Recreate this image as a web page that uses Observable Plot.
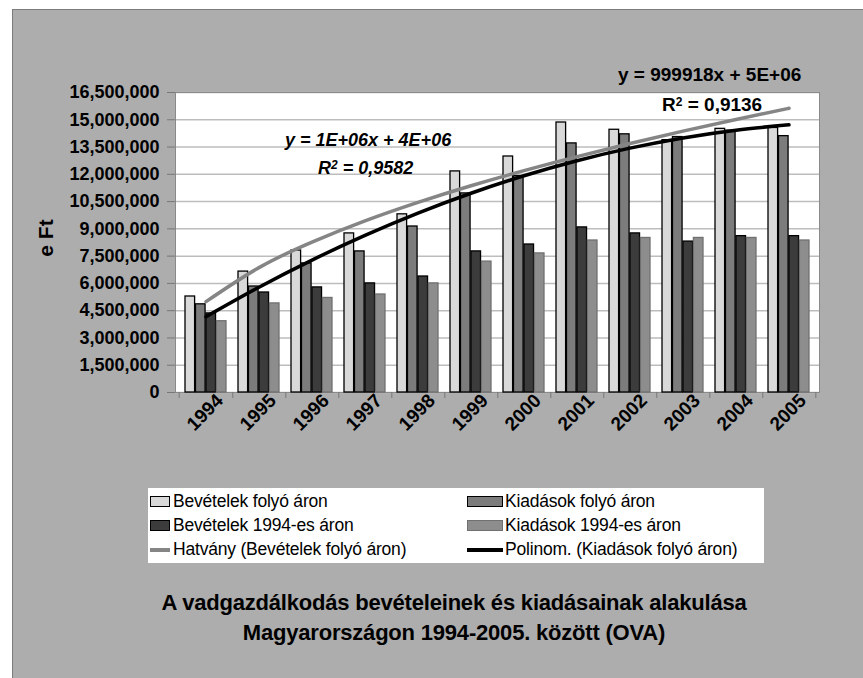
<!DOCTYPE html>
<html>
<head>
<meta charset="utf-8">
<script src="https://cdn.jsdelivr.net/npm/d3@7"></script>
<script src="https://cdn.jsdelivr.net/npm/@observablehq/plot@0.6"></script>
<style>
  html, body { margin: 0; padding: 0; background: #ffffff; }
  #page { position: relative; width: 863px; height: 678px; overflow: hidden; background: #ffffff; font-family: "Liberation Sans", Arial, sans-serif; }
  #panel { position: absolute; left: 12px; top: 9px; width: 900px; height: 720px; background: #adadad; border: 1px solid #7c7c7c; }
  #chart { position: absolute; left: 0; top: 0; }
  .ann { position: absolute; font-weight: bold; font-size: 18px; line-height: 18px; white-space: nowrap; color: #000; }
  .ann sup { font-size: 12px; position: relative; top: -3px; vertical-align: top; }
  #ylabel { position: absolute; left: 46px; top: 238px; transform: translate(-50%, -50%) rotate(-90deg); font-weight: bold; font-size: 21px; white-space: nowrap; }
  #legend { position: absolute; left: 148px; top: 488px; width: 616px; height: 75px; background: #ffffff; font-size: 17.5px; }
  .li { position: absolute; height: 20px; line-height: 20px; white-space: nowrap; letter-spacing: -0.2px; }
  .sw { position: absolute; top: 4px; height: 11px; box-sizing: border-box; }
  .ln { position: absolute; top: 8px; height: 4px; }
  #title { position: absolute; left: 154px; width: 600px; top: 588px; text-align: center; font-weight: bold; font-size: 22px; line-height: 30px; white-space: nowrap; letter-spacing: -0.2px; }
</style>
</head>
<body>
<div id="page">
  <div id="panel"></div>
  <div id="chart"></div>
  <div id="ylabel">e Ft</div>
  <div class="ann" style="left:285px; top:131px; font-style:italic;">y = 1E+06x + 4E+06</div>
  <div class="ann" style="left:318px; top:159px; font-style:italic;">R<sup>2</sup> = 0,9582</div>
  <div class="ann" style="left:618px; top:66px; font-size:19px;">y = 999918x + 5E+06</div>
  <div class="ann" style="left:662px; top:96px; font-size:19px;">R<sup>2</sup> = 0,9136</div>
  <div id="legend"></div>
  <div id="title">A vadgazdálkodás bevételeinek és kiadásainak alakulása<br>Magyarországon 1994-2005. között (OVA)</div>
</div>
<script>
// ---- data ----
const years = ["1994","1995","1996","1997","1998","1999","2000","2001","2002","2003","2004","2005"];
const bevFolyo  = [5280000, 6650000, 7810000, 8750000, 9800000, 12160000, 12980000, 14850000, 14450000, 13880000, 14500000, 14550000];
const kiadFolyo = [4850000, 5830000, 7100000, 7760000, 9130000, 10950000, 11900000, 13700000, 14200000, 14050000, 14400000, 14100000];
const bev1994   = [4350000, 5500000, 5780000, 6000000, 6380000, 7760000, 8140000, 9080000, 8750000, 8300000, 8600000, 8600000];
const kiad1994  = [3920000, 4900000, 5200000, 5390000, 6000000, 7200000, 7650000, 8360000, 8500000, 8500000, 8500000, 8360000];
const seriesNames = ["Bevételek folyó áron", "Kiadások folyó áron", "Bevételek 1994-es áron", "Kiadások 1994-es áron"];
const trendNames = ["Hatvány (Bevételek folyó áron)", "Polinom. (Kiadások folyó áron)"];
const yTicks = [0, 1500000, 3000000, 4500000, 6000000, 7500000, 9000000, 10500000, 12000000, 13500000, 15000000, 16500000];

// ---- styles ----
const fills   = ["#d9d9d9", "#7c7c7c", "#3c3c3c", "#8d8d8d"];
const strokes = ["#000000", "#000000", "#000000", "#707070"];

// ---- trend lines fitted from the data (as the spreadsheet did) ----
const xs = years.map((_, i) => i + 1);
function powerFit(x, y) {
  const lx = x.map(Math.log), ly = y.map(Math.log);
  const mx = d3.mean(lx), my = d3.mean(ly);
  const b = d3.sum(lx, (v, i) => (v - mx) * (ly[i] - my)) / d3.sum(lx, v => (v - mx) ** 2);
  const a = Math.exp(my - b * mx);
  return t => a * Math.pow(t, b);
}
function quadFit(x, y) {
  const n = x.length;
  const S = k => d3.sum(x, v => v ** k);
  const T = k => d3.sum(x, (v, i) => v ** k * y[i]);
  const M = [[n, S(1), S(2), T(0)], [S(1), S(2), S(3), T(1)], [S(2), S(3), S(4), T(2)]];
  for (let c = 0; c < 3; c++) {
    for (let r = c + 1; r < 3; r++) {
      const f = M[r][c] / M[c][c];
      for (let k = c; k < 4; k++) M[r][k] -= f * M[c][k];
    }
  }
  const coef = [0, 0, 0];
  for (let r = 2; r >= 0; r--) {
    let s = M[r][3];
    for (let k = r + 1; k < 3; k++) s -= M[r][k] * coef[k];
    coef[r] = s / M[r][r];
  }
  return t => coef[0] + coef[1] * t + coef[2] * t * t;
}
const pw = powerFit(xs, bevFolyo);
const qd = quadFit(xs, kiadFolyo);
const trendRows = years.map((year, i) => ({year, pow: pw(xs[i]), poly: qd(xs[i])}));

// ---- layout ----
const W = 863, H = 470;
const mL = 175, mR = 44, mT = 92, plotBottom = 392;
const step = (W - mL - mR) / years.length;
const padInner = 0.22;
const bw = step * (1 - padInner);
const q = bw / 4;

const seriesData = [bevFolyo, kiadFolyo, bev1994, kiad1994];
const barMarks = seriesData.map((vals, k) =>
  Plot.barY(years.map((year, i) => ({year, value: vals[i]})), {
    x: "year", y: "value",
    fill: fills[k], stroke: strokes[k], strokeWidth: 1.3,
    insetLeft: k * q, insetRight: (3 - k) * q
  })
);

const chart = Plot.plot({
  width: W, height: H,
  marginLeft: mL, marginRight: mR, marginTop: mT, marginBottom: H - plotBottom,
  style: {fontFamily: "'Liberation Sans', Arial, sans-serif", fontSize: "18px", fontWeight: "bold", background: "transparent", color: "#000", overflow: "visible"},
  x: {type: "band", domain: years, paddingInner: padInner, paddingOuter: padInner / 2, label: null},
  y: {domain: [0, 16500000], label: null},
  marks: [
    Plot.frame({fill: "#ffffff"}),
    Plot.gridY(yTicks, {stroke: "#bdbdbd", strokeOpacity: 1, strokeWidth: 1.5}),
    Plot.frame({stroke: "#8a8a8a"}),
    ...barMarks,
    Plot.line(trendRows, {x: "year", y: "pow", stroke: "#858585", strokeWidth: 3.5, curve: "natural"}),
    Plot.line(trendRows, {x: "year", y: "poly", stroke: "#000000", strokeWidth: 3.5, curve: "natural"}),
    Plot.axisY(yTicks, {tickFormat: d3.format(","), tickSize: 8, tickPadding: 8, stroke: "#777", label: null}),
    Plot.axisX({tickSize: 0, tickRotate: -45, tickPadding: 5, dx: 14, fontSize: 19, label: null}),
    Plot.axisX({tickSize: 6, tickFormat: () => "", dx: step / 2, stroke: "#777", label: null}),
    Plot.axisX([years[0]], {tickSize: 6, tickFormat: () => "", dx: -step / 2, stroke: "#777", label: null})
  ]
});
document.getElementById("chart").appendChild(chart);

// ---- legend ----
const legend = document.getElementById("legend");
const items = [
  {name: seriesNames[0], col: 0, row: 0, kind: "box", fill: fills[0], stroke: strokes[0]},
  {name: seriesNames[1], col: 1, row: 0, kind: "box", fill: fills[1], stroke: strokes[1]},
  {name: seriesNames[2], col: 0, row: 1, kind: "box", fill: fills[2], stroke: strokes[2]},
  {name: seriesNames[3], col: 1, row: 1, kind: "box", fill: fills[3], stroke: strokes[3]},
  {name: trendNames[0], col: 0, row: 2, kind: "line", fill: "#858585"},
  {name: trendNames[1], col: 1, row: 2, kind: "line", fill: "#000000"}
];
const colSw = [{left: 2, w: 20, text: 25}, {left: 319, w: 36, text: 357}];
items.forEach(it => {
  const c = colSw[it.col];
  const top = 3 + it.row * 24;
  const sw = document.createElement("div");
  if (it.kind === "box") {
    sw.className = "sw";
    sw.style.background = it.fill;
    sw.style.border = "1.5px solid " + it.stroke;
  } else {
    sw.className = "ln";
    sw.style.background = it.fill;
  }
  sw.style.left = c.left + "px";
  sw.style.width = c.w + "px";
  sw.style.top = (top + (it.kind === "box" ? 5 : 9)) + "px";
  legend.appendChild(sw);
  const t = document.createElement("div");
  t.className = "li";
  t.style.left = c.text + "px";
  t.style.top = top + "px";
  t.textContent = it.name;
  legend.appendChild(t);
});
</script>
</body>
</html>
